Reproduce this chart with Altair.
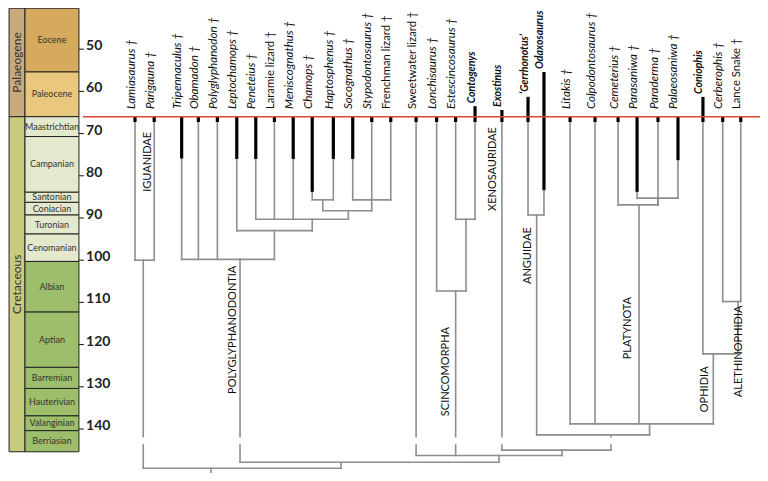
import altair as alt
import pandas as pd

# ---------------- data ----------------
stage_names = ["Eocene", "Paleocene", "Maastrichtian", "Campanian", "Santonian", "Coniacian",
               "Turonian", "Cenomanian", "Albian", "Aptian", "Barremian", "Hauterivian",
               "Valanginian", "Berriasian"]
stage_top = [40.3, 55.4, 66.0, 70.7, 83.9, 86.3, 89.3, 93.8, 100.3, 112.3, 125.4, 130.4, 136.9, 140.4]
stage_base = [55.4, 66.0, 70.7, 83.9, 86.3, 89.3, 93.8, 100.3, 112.3, 125.4, 130.4, 136.9, 140.4, 145.4]
stage_color = ["#d5aa5c", "#e9c77c", "#e3e9cd", "#e3e9cd", "#e3e9cd", "#e3e9cd", "#e3e9cd",
               "#e3e9cd", "#9dbf6b", "#9dbf6b", "#9dbf6b", "#9dbf6b", "#9dbf6b", "#9dbf6b"]

period_names = ["Palaeogene", "Cretaceous"]
period_top = [40.3, 66.0]
period_base = [66.0, 145.4]
period_color = ["#c9aa7c", "#c6cc7c"]

age_ticks = [50, 60, 70, 80, 90, 100, 110, 120, 130, 140]
kpg_boundary = 66.0

tip_names = ["Lamiasaurus †", "Parigauna †", "Tripennaculus †", "Obamadon †", "Polyglyphanodon †",
             "Leptochamops †", "Peneteius †", "Laramie lizard †", "Meniscognathus †", "Chamops †",
             "Haptosphenus †", "Socognathus †", "Stypodontosaurus †", "Frenchman lizard †",
             "Sweetwater lizard †", "Lonchisaurus †", "Estescincosaurus †", "Contogenys",
             "Exostinus", "\u2018Gerrhonotus\u2019", "Odaxosaurus", "Litakis †", "Colpodontosaurus †",
             "Cemeterius †", "Parasaniwa †", "Paraderma †", "Palaeosaniwa †", "Coniophis",
             "Cerberophis †", "Lance Snake †"]
# position of each tip along the tree (tip-spacing units)
tip_pos = [0.0, 1.0, 2.43, 3.30, 4.29, 5.30, 6.29, 7.26, 8.24, 9.23, 10.33, 11.34, 12.33, 13.32,
           14.64, 15.71, 16.70, 17.71, 19.11, 20.47, 21.30, 22.66, 23.96, 25.16, 26.15, 27.24,
           28.28, 29.58, 30.61, 31.55]
# i = italic, n = roman, b = bold italic (K-Pg survivors)
tip_style = ["i", "i", "i", "i", "i", "i", "i", "n", "i", "i", "i", "i", "i", "n", "n", "i", "i",
             "b", "b", "b", "b", "i", "i", "i", "i", "i", "i", "b", "i", "n"]
# youngest occurrence above the K-Pg boundary (Ma) for survivors
tip_top = [None, None, None, None, None, None, None, None, None, None, None, None, None, None,
           None, None, None, 63.5, 64.4, 61.3, 55.4, None, None, None, None, None, None, 61.3,
           None, None]
# oldest occurrence (base of thick range, Ma)
tip_range_base = [None, None, 75.9, None, None, 76.0, 76.0, None, 76.0, 83.8, 76.0, 76.0, None,
                  None, None, None, None, None, None, None, 83.4, None, None, None, 83.8, None,
                  76.3, None, None, None]

node_names = ["Iguanidae", "P5", "P4", "P3", "P2", "P1", "Polyglyphanodontia", "SC1",
              "Scincomorpha", "Anguidae", "PA", "Platynota", "Alethinophidia", "Ophidia",
              "F", "E", "D", "C", "B", "Root"]
node_age = [100.0, 85.7, 85.7, 88.3, 90.3, 93.0, 99.8, 90.3, 107.3, 89.3, 85.3, 86.9, 109.8,
            122.2, 138.8, 141.4, 145.0, 146.3, 147.9, 149.3]
node_stem = [0.43, 12.33, 9.78, 11.11, 9.23, 7.26, 5.47, 17.24, 16.70, 20.92, 27.24, 26.25,
             31.41, 30.12, 26.80, 24.79, 22.24, 18.96, 10.73, 3.96]
node_children = [
    ["Lamiasaurus †", "Parigauna †"],
    ["Socognathus †", "Stypodontosaurus †", "Frenchman lizard †"],
    ["Chamops †", "Haptosphenus †"],
    ["P4", "P5"],
    ["Peneteius †", "Laramie lizard †", "Meniscognathus †", "P3"],
    ["Leptochamops †", "P2"],
    ["Tripennaculus †", "Obamadon †", "Polyglyphanodon †", "P1"],
    ["Estescincosaurus †", "Contogenys"],
    ["Lonchisaurus †", "SC1"],
    ["\u2018Gerrhonotus\u2019", "Odaxosaurus"],
    ["Parasaniwa †", "Palaeosaniwa †"],
    ["Cemeterius †", "Paraderma †", "PA"],
    ["Cerberophis †", "Lance Snake †"],
    ["Coniophis", "Alethinophidia"],
    ["Litakis †", "Colpodontosaurus †", "Platynota", "Ophidia"],
    ["Anguidae", "F"],
    ["Exostinus", "E"],
    ["Sweetwater lizard †", "Scincomorpha", "D"],
    ["Polyglyphanodontia", "C"],
    ["Iguanidae", "B"],
]
root_base = 150.4
break_top, break_base = 141.8, 143.8

clade_labels = ["IGUANIDAE", "POLYGLYPHANODONTIA", "SCINCOMORPHA", "XENOSAURIDAE", "ANGUIDAE",
                "PLATYNOTA", "OPHIDIA", "ALETHINOPHIDIA"]
clade_pos = [0.68, 5.09, 16.2, 18.65, 20.47, 25.68, 29.69, 31.46]
clade_age = [76.7, 116.5, 126.4, 78.4, 98.9, 116.1, 130.6, 121.6]

# ---------------- layout constants ----------------
X_MIN, X_MAX = -6.615, 32.552
AGE_MIN, AGE_MAX = 40.24, 150.43
PERIOD_X0, PERIOD_X1, STAGE_X1 = -6.56, -5.73, -2.92
TICK_X1, LABEL_X = -2.66, -2.55
RED_X0 = -2.71
GRAY = "#8e8e8e"

xs = alt.Scale(domain=[X_MIN, X_MAX], nice=False, zero=False)
ys = alt.Scale(domain=[AGE_MIN, AGE_MAX], reverse=True, nice=False, zero=False)

# ---------------- build tree segments ----------------
pos, top = {}, {}
for n, p in zip(tip_names, tip_pos):
    pos[n] = p
    top[n] = kpg_boundary
for n, a, s in zip(node_names, node_age, node_stem):
    pos[n] = s
    top[n] = a

segs = []


def add_vertical(x, y0, y1):
    if y0 < break_top and y1 > break_base:
        segs.append(dict(x=x, x2=x, y=y0, y2=break_top))
        segs.append(dict(x=x, x2=x, y=break_base, y2=y1))
    else:
        segs.append(dict(x=x, x2=x, y=y0, y2=y1))


for n, a, kids in zip(node_names, node_age, node_children):
    kx = [pos[k] for k in kids]
    segs.append(dict(x=min(kx), x2=max(kx), y=a, y2=a))
    for k in kids:
        add_vertical(pos[k], top[k], a)
add_vertical(pos["Root"], top["Root"], root_base)
seg_df = pd.DataFrame(segs)

blk = []
for n, p, t, b in zip(tip_names, tip_pos, tip_top, tip_range_base):
    y0 = t if t is not None else kpg_boundary
    y1 = b if b is not None else kpg_boundary + 1.25
    blk.append(dict(x=p, x2=p, y=y0, y2=y1))
blk_df = pd.DataFrame(blk)

tips_df = pd.DataFrame(dict(name=tip_names, x=tip_pos, style=tip_style,
                            y=[(t - 0.7) if t is not None else 64.2 for t in tip_top]))

stage_df = pd.DataFrame(dict(name=stage_names, y=stage_top, y2=stage_base, fill=stage_color,
                             x=PERIOD_X1, x2=STAGE_X1))
stage_df["ym"] = (stage_df.y + stage_df.y2) / 2
stage_df["xm"] = (PERIOD_X1 + STAGE_X1) / 2
period_df = pd.DataFrame(dict(name=period_names, y=period_top, y2=period_base, fill=period_color,
                              x=PERIOD_X0, x2=PERIOD_X1))
period_df["ym"] = (period_df.y + period_df.y2) / 2
period_df["xm"] = (PERIOD_X0 + PERIOD_X1) / 2
col_df = pd.concat([period_df, stage_df], ignore_index=True)

tick_df = pd.DataFrame(dict(age=age_ticks, x=STAGE_X1, x2=TICK_X1, lx=LABEL_X,
                            label=[str(a) for a in age_ticks]))
red_df = pd.DataFrame(dict(x=[RED_X0], x2=[X_MAX], y=[kpg_boundary]))
clade_df = pd.DataFrame(dict(name=clade_labels, x=clade_pos, y=clade_age))

# ---------------- layers ----------------
base_x = alt.X("x:Q", scale=xs, axis=None)
base_y = alt.Y("y:Q", scale=ys, axis=None)

cols = alt.Chart(col_df).mark_rect(stroke="#222222", strokeWidth=1).encode(
    x=base_x, x2="x2:Q", y=base_y, y2="y2:Q", fill=alt.Fill("fill:N", scale=None))

stage_txt = alt.Chart(stage_df).mark_text(font="Lato", fontSize=9, color="#333333").encode(
    x=alt.X("xm:Q", scale=xs, axis=None), y=alt.Y("ym:Q", scale=ys, axis=None), text="name:N")

period_txt = alt.Chart(period_df).mark_text(font="Lato", fontSize=12, color="#333333",
                                            angle=270).encode(
    x=alt.X("xm:Q", scale=xs, axis=None), y=alt.Y("ym:Q", scale=ys, axis=None), text="name:N")

ticks = alt.Chart(tick_df).mark_rule(color="#111111", strokeWidth=1).encode(
    x=alt.X("x:Q", scale=xs, axis=None), x2="x2:Q", y=alt.Y("age:Q", scale=ys, axis=None))
tick_txt = alt.Chart(tick_df).mark_text(font="Lato", fontSize=14, fontWeight="bold",
                                        color="#222222", align="left", baseline="middle",
                                        dy=-3).encode(
    x=alt.X("lx:Q", scale=xs, axis=None), y=alt.Y("age:Q", scale=ys, axis=None), text="label:N")

gray_lines = alt.Chart(seg_df).mark_rule(color=GRAY, strokeWidth=1.6, strokeCap="square").encode(
    x=base_x, x2="x2:Q", y=base_y, y2="y2:Q")
black_lines = alt.Chart(blk_df).mark_rule(color="#000000", strokeWidth=3.2).encode(
    x=base_x, x2="x2:Q", y=base_y, y2="y2:Q")
red_line = alt.Chart(red_df).mark_rule(color="#e0452d", strokeWidth=1.5).encode(
    x=base_x, x2="x2:Q", y=base_y)


def tip_layer(style, size, **kw):
    return alt.Chart(tips_df).transform_filter(alt.datum.style == style).mark_text(
        font="Lato", fontSize=size, angle=270, align="left", baseline="middle", dy=-3.5,
        color="#111111", **kw).encode(x=base_x, y=base_y, text="name:N")


tips_i = tip_layer("i", 11.6, fontStyle="italic")
tips_n = tip_layer("n", 11.3)
tips_b = tip_layer("b", 10.5, fontStyle="italic", fontWeight="bold")

clade_txt = alt.Chart(clade_df).mark_text(font="Lato", fontSize=11, angle=270, align="center",
                                          baseline="middle", color="#111111").encode(
    x=base_x, y=base_y, text="name:N")

chart = alt.layer(cols, stage_txt, period_txt, ticks, tick_txt, gray_lines, black_lines, red_line,
                  tips_i, tips_n, tips_b, clade_txt).properties(
    width=752, height=465, autosize=alt.AutoSizeParams(type="none"), padding=0
).configure_view(stroke=None)

chart.save("out.html", embed_options={"renderer": "svg", "actions": False})
